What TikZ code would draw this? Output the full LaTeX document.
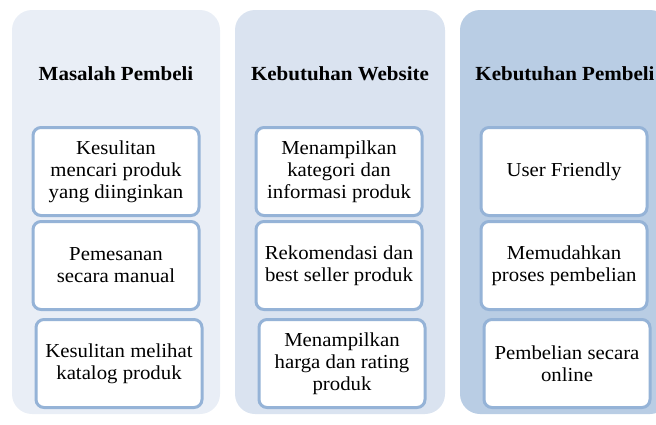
\documentclass[tikz,border=0pt]{standalone}
\usepackage{fontspec}
\setmainfont[FakeStretch=1.05]{Liberation Serif}
\usetikzlibrary{positioning}
\definecolor{pA}{HTML}{E9EEF6}
\definecolor{pB}{HTML}{DAE3F0}
\definecolor{pC}{HTML}{B9CDE4}
\definecolor{edge}{HTML}{95B3D7}

\begin{document}
\begin{tikzpicture}[x=1pt,y=-1pt,
  panel/.style={rounded corners=20pt},
  head/.style={font=\bfseries\fontsize{20}{22}\selectfont,anchor=base},
  item/.style={draw=edge,fill=white,line width=3pt,rounded corners=8pt,
    minimum width=166pt,minimum height=88pt,inner sep=1pt,align=center,
    font=\fontsize{19.8}{22}\selectfont}]
  \useasboundingbox (0,0) rectangle (656,424);
  \clip (0,0) rectangle (656,424);
  % the three column panels, last one runs off the page
  \fill[pA,panel] (12,10) rectangle (220,414);
  \fill[pB,panel] (235,10) rectangle (445,414);
  \fill[pC,panel] (460,10) rectangle (670,414);
  % headings
  \node[head] (hA) at (116,80) {Masalah Pembeli};
  \node[head] (hB) at (340,80) {Kebutuhan Website};
  \node[head] (hC) at (565,80) {Kebutuhan Pembeli};
  % masalah pembeli
  \node[item] (a1) at (116,171.5) {Kesulitan\\mencari produk\\yang diinginkan};
  \node[item,below=3pt of a1] (a2) {Pemesanan\\secara manual};
  \node[item,below=7pt of a2,xshift=3pt] (a3) {Kesulitan melihat\\katalog produk};
  % kebutuhan website
  \node[item] (b1) at (339,171.5) {Menampilkan\\kategori dan\\informasi produk};
  \node[item,below=3pt of b1] (b2) {Rekomendasi dan\\best seller produk};
  \node[item,below=7pt of b2,xshift=3pt] (b3) {Menampilkan\\harga dan rating\\produk};
  % kebutuhan pembeli
  \node[item] (c1) at (564,171.5) {User Friendly};
  \node[item,below=3pt of c1] (c2) {Memudahkan\\proses pembelian};
  \node[item,below=7pt of c2,xshift=3pt] (c3) {Pembelian secara\\online};
\end{tikzpicture}
\end{document}
